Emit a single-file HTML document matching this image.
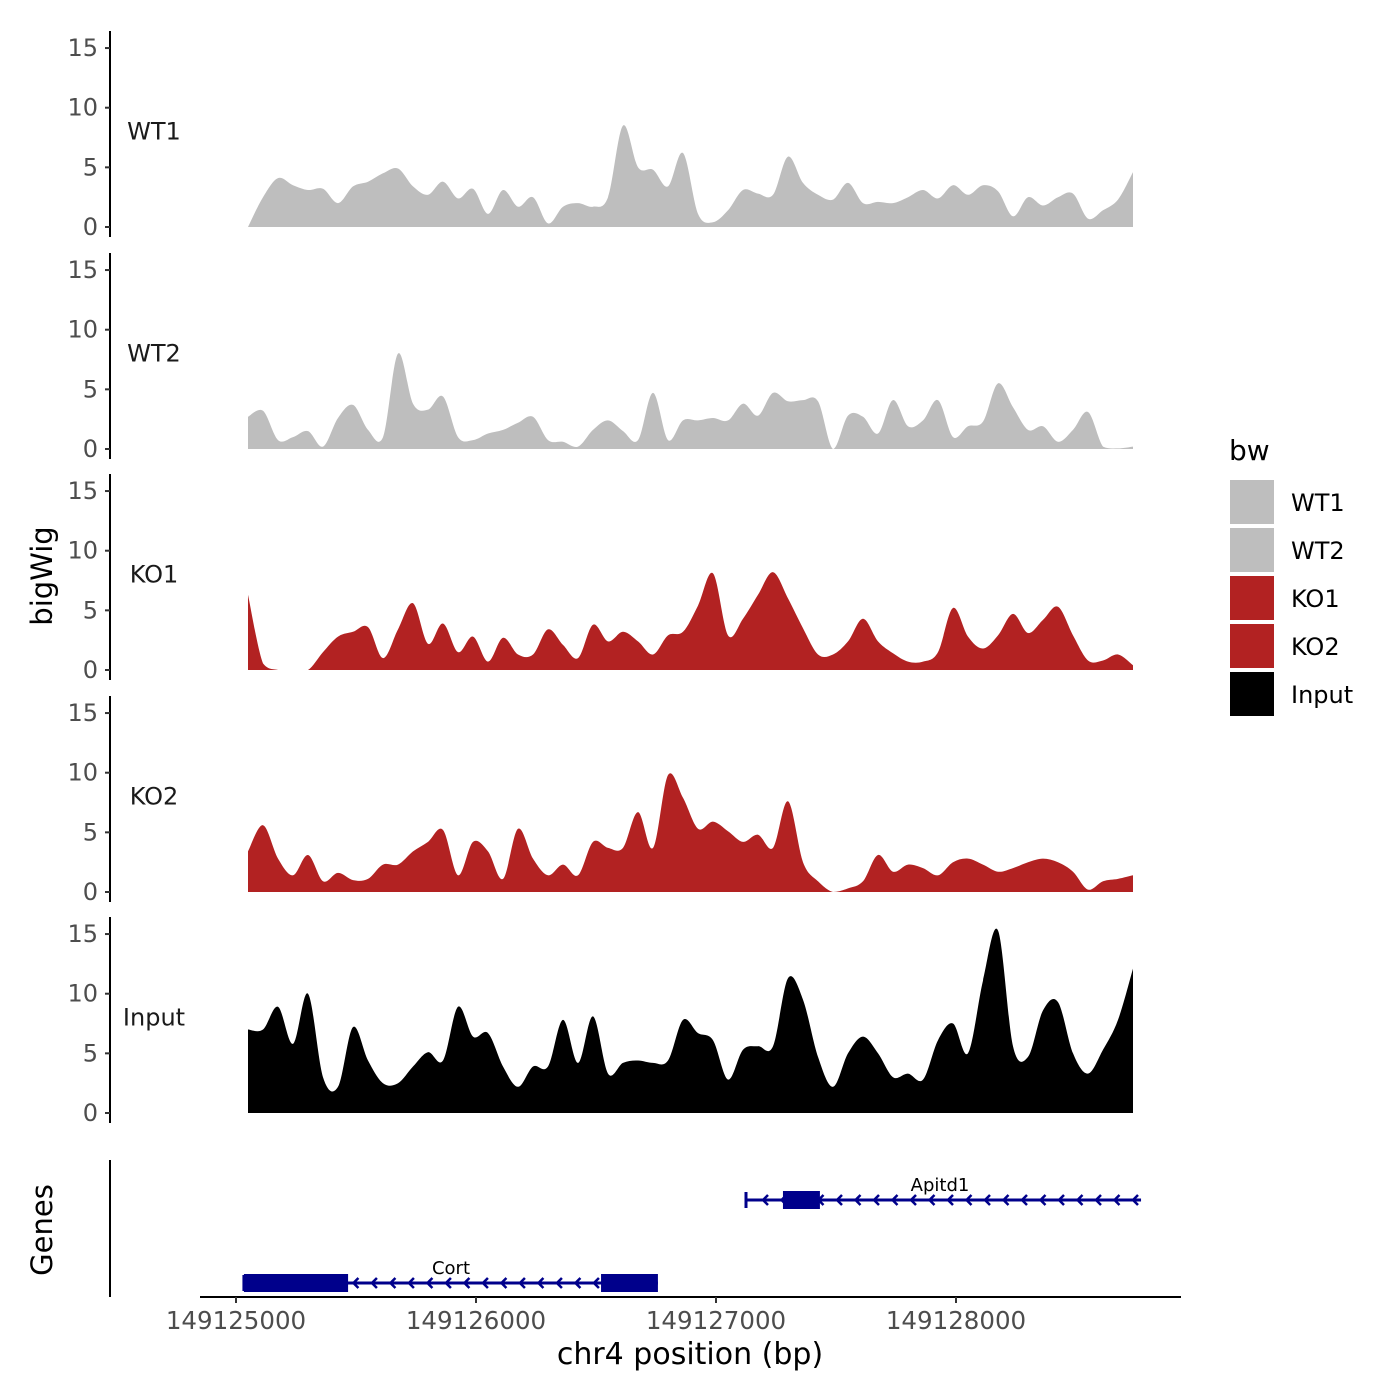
<!DOCTYPE html>
<html><head><meta charset="utf-8">
<style>
body{margin:0;background:#fff;}
svg{display:block;font-family:"DejaVu Sans","Liberation Sans",sans-serif;}
</style></head>
<body>
<svg id="chart" width="1400" height="1400" viewBox="0 0 1400 1400" xmlns="http://www.w3.org/2000/svg"></svg>
<script>
const trackNames = ["WT1","WT2","KO1","KO2","Input"];
const trackColors = ["#bebebe","#bebebe","#b22222","#b22222","#000000"];
const startBp = 149125050;
const stepBp = 62.5;
const wt1 = [0,2.5,4.1,3.5,3.1,3.2,2,3.4,3.8,4.5,4.9,3.4,2.7,3.8,2.4,3.2,1.1,3.1,1.7,2.5,0.3,1.7,2,1.7,2.5,8.5,5,4.8,3.4,6.2,1.1,0.4,1.4,3.1,2.8,2.7,5.9,3.7,2.7,2.3,3.7,2,2.1,2,2.5,3.1,2.4,3.5,2.7,3.5,3,0.9,2.5,1.8,2.5,2.8,0.7,1.4,2.3,4.6];
const wt2 = [2.7,3.2,0.75,1.0,1.5,0.2,2.6,3.7,1.6,1.0,8.0,3.8,3.3,4.4,1.0,0.75,1.3,1.6,2.2,2.7,0.75,0.6,0.2,1.6,2.4,1.5,0.75,4.7,0.75,2.4,2.4,2.6,2.4,3.8,2.8,4.7,4,4.1,4,0,2.8,2.7,1.3,4.1,1.9,2.4,4.1,1.0,1.9,2.3,5.5,3.5,1.6,1.9,0.6,1.6,3.1,0.2,0.05,0.2];
const ko1 = [6.3,0.55,0,0,0,1.5,2.8,3.2,3.6,1.0,3.4,5.6,2.2,3.9,1.5,2.8,0.7,2.7,1.3,1.3,3.4,2.1,1.0,3.8,2.4,3.2,2.4,1.3,2.9,3.2,5.4,8.1,2.9,4.3,6.3,8.2,6.0,3.5,1.3,1.3,2.4,4.3,2.4,1.4,0.7,0.7,1.5,5.2,2.8,1.8,2.9,4.7,3.1,4.2,5.3,2.9,0.8,0.8,1.3,0.4];
const ko2 = [3.4,5.6,2.8,1.4,3.1,0.9,1.6,1.0,1.1,2.3,2.3,3.4,4.2,5.2,1.4,4.2,3.4,1.1,5.3,2.8,1.4,2.3,1.4,4.2,3.7,3.7,6.7,3.7,9.8,7.9,5.3,5.9,5.1,4.2,4.8,3.7,7.6,2.5,0.9,0,0.3,0.9,3.1,1.7,2.3,2.0,1.4,2.5,2.8,2.3,1.7,2.0,2.5,2.8,2.5,1.7,0.2,0.9,1.1,1.4];
const input = [7.0,7.0,8.9,5.8,10,3.0,2.2,7.2,4.4,2.5,2.5,3.9,5.1,4.4,8.9,6.4,6.7,3.9,2.2,3.9,3.9,7.8,4.2,8.1,3.3,4.2,4.4,4.2,4.4,7.8,6.7,6.1,2.8,5.3,5.6,5.6,11.3,9.5,4.7,2.2,5.0,6.4,5.0,3.0,3.3,2.8,6.1,7.5,5.0,11.1,15.3,5.6,4.7,8.6,9.3,5.0,3.3,5.3,7.8,12.1];
const trackValues = [wt1,wt2,ko1,ko2,input];
const yTicks = [0,5,10,15];
const xTicks = [149125000,149126000,149127000,149128000];
const geneNames = ["Apitd1","Cort"];
const geneStart = [149127125,149125033];
const geneEnd = [149128771,149126758];
const exonStarts = [[149127279],[149125033,149126521]];
const exonEnds = [[149127433],[149125467,149126758]];

const NS="http://www.w3.org/2000/svg";
const svg=document.getElementById('chart');
function mk(t,a,p){const e=document.createElementNS(NS,t);for(const k in a)e.setAttribute(k,a[k]);(p||svg).appendChild(e);return e;}
const xS=bp=>236+(bp-149125000)*0.24;
const zeroYs=[227,449,670,892,1113];
const unit=11.93;

trackNames.forEach((nm,ti)=>{
  const z=zeroYs[ti];
  const yS=v=>z-v*unit;
  const g=mk('g',{});
  
  
  const vals=trackValues[ti];
  const pts=vals.map((v,i)=>[xS(startBp+i*stepBp),yS(v)]);
  let d='M'+pts[0][0].toFixed(1)+','+z+' L'+pts[0][0].toFixed(1)+','+pts[0][1].toFixed(1);
  for(let i=0;i<pts.length-1;i++){
    const p0=pts[Math.max(0,i-1)],p1=pts[i],p2=pts[i+1],p3=pts[Math.min(pts.length-1,i+2)];
    const c1x=p1[0]+(p2[0]-p0[0])/6, c1y=Math.min(z,p1[1]+(p2[1]-p0[1])/6);
    const c2x=p2[0]-(p3[0]-p1[0])/6, c2y=Math.min(z,p2[1]-(p3[1]-p1[1])/6);
    d+=' C'+c1x.toFixed(1)+','+c1y.toFixed(1)+' '+c2x.toFixed(1)+','+c2y.toFixed(1)+' '+p2[0].toFixed(1)+','+p2[1].toFixed(1);
  }
  d+=' L'+pts[pts.length-1][0].toFixed(1)+','+z+' Z';
  const p=mk('path',{d:d,fill:trackColors[ti]},g);
  
  
  const ax=mk('line',{x1:110,x2:110,y1:z-196,y2:z+10,stroke:'#000','stroke-width':2},g);
  
  
  yTicks.forEach(t=>{
    mk('line',{x1:105,x2:110,y1:yS(t),y2:yS(t),stroke:'#333','stroke-width':2},g);
    const tx=mk('text',{x:98,y:yS(t)+8,'text-anchor':'end','font-size':24,fill:'#4d4d4d'},g);
    tx.textContent=t;
    
    
  });
  const lb=mk('text',{x:154,y:yS(8)+8,'text-anchor':'middle','font-size':24,fill:'#1a1a1a'},g);
  lb.textContent=nm;
  
  
});

const bw=mk('text',{x:52,y:576,'text-anchor':'middle','font-size':29,fill:'#000',transform:'rotate(-90 52 576)'});
bw.textContent='bigWig';



const gAx=mk('line',{x1:110,x2:110,y1:1160,y2:1297,stroke:'#000','stroke-width':2});


const gt=mk('text',{x:52,y:1230,'text-anchor':'middle','font-size':29,fill:'#000',transform:'rotate(-90 52 1230)'});
gt.textContent='Genes';


const geneY=[1200,1283];
geneNames.forEach((nm,gi)=>{
  const g=mk('g',{});
  
  
  const y=geneY[gi], x1=xS(geneStart[gi]), x2=xS(geneEnd[gi]);
  mk('line',{x1:x1,x2:x2,y1:y,y2:y,stroke:'#00008b','stroke-width':3},g);
  for(let x=x1+18;x<x2-4;x+=18.5){
    mk('polyline',{points:(x+4)+','+(y-5)+' '+(x-1)+','+y+' '+(x+4)+','+(y+5),fill:'none',stroke:'#00008b','stroke-width':2.5},g);
  }
  mk('line',{x1:x1,x2:x1,y1:y-8,y2:y+8,stroke:'#00008b','stroke-width':3},g);
  exonStarts[gi].forEach((s,k)=>{
    const r=mk('rect',{x:xS(s),y:y-9,width:xS(exonEnds[gi][k])-xS(s),height:18,fill:'#00008b'},g);
    
    
  });
  const t=mk('text',{x:(gi==0?940:451),y:y-9,'text-anchor':'middle','font-size':18,fill:'#000'},g);
  t.textContent=nm;
  
  
});

const xa=mk('line',{x1:200,x2:1181,y1:1297,y2:1297,stroke:'#000','stroke-width':2});


xTicks.forEach(t=>{
  mk('line',{x1:xS(t),x2:xS(t),y1:1297,y2:1303,stroke:'#333','stroke-width':2});
  const tx=mk('text',{x:xS(t),y:1329,'text-anchor':'middle','font-size':24.5,fill:'#4d4d4d'});
  tx.textContent=t;
  
  
});
const xt=mk('text',{x:690,y:1364,'text-anchor':'middle','font-size':30,fill:'#000'});
xt.textContent='chr4 position (bp)';



const lg=mk('g',{});


const lt=mk('text',{x:1229,y:460,'font-size':28,fill:'#000'},lg);
lt.textContent='bw';


trackNames.forEach((nm,i)=>{
  const y=480+i*48;
  const r=mk('rect',{x:1230,y:y,width:44,height:44,fill:trackColors[i]},lg);
  
  
  const t=mk('text',{x:1291,y:y+31,'font-size':24,fill:'#000'},lg);
  t.textContent=nm;
  
  
});
</script>
</body></html>
